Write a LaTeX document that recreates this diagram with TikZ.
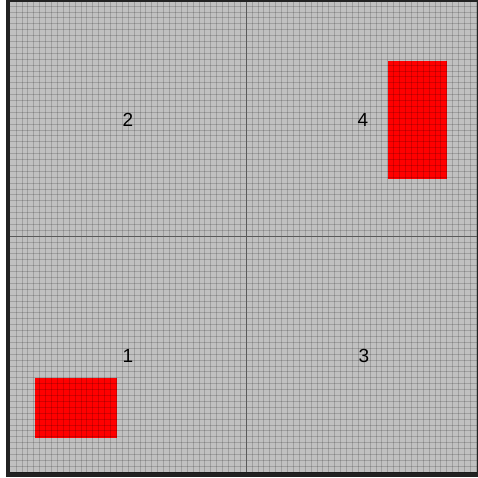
\documentclass[tikz,border=0pt]{standalone}
\usepackage{fontspec}
\setmainfont{Liberation Sans}
\usetikzlibrary{positioning}
\definecolor{bgray}{RGB}{192,192,192}
\definecolor{axgray}{RGB}{90,90,90}
\definecolor{frm}{RGB}{34,34,34}
\tikzset{
  every node/.style={font=\fontsize{19}{21}\selectfont},
  zone/.style={fill=red,draw=none},
  fine/.style={draw=black,draw opacity=0.17,line width=0.6pt},
  axis/.style={draw=axgray,line width=0.9pt},
  lbl/.style={inner sep=0pt,text=black},
}

\begin{document}
\begin{tikzpicture}[x=1pt,y=-1pt]
  \useasboundingbox (0,0) rectangle (478,477);

  % ---------------- frame and board
  \fill[white] (0,0) rectangle (478,477);
  \fill[frm] (6,0) rectangle (478,477);
  \fill[bgray] (10,2) rectangle (476.5,472);

  % ---------------- red zones
  \fill[zone] (35,378) rectangle (117,438);
  \fill[zone] (388,61) rectangle (447,179);

  % ---------------- grid
  \foreach \i in {-39,...,39} {
    \draw[fine] ({246+5.9*\i},2) -- ({246+5.9*\i},472);
  }
  \foreach \j in {-39,...,40} {
    \draw[fine] (10,{236+5.9*\j}) -- (476.5,{236+5.9*\j});
  }
  \draw[axis] (246,2) -- (246,472);
  \draw[axis] (10,236) -- (476.5,236);

  % ---------------- quadrant labels
  \node[lbl] (q2) at (128,120) {2};
  \node[lbl] (q4) at (363,120) {4};
  \node[lbl] (q1) at (128,356) {1};
  \node[lbl] (q3) at (364,356) {3};
\end{tikzpicture}
\end{document}
